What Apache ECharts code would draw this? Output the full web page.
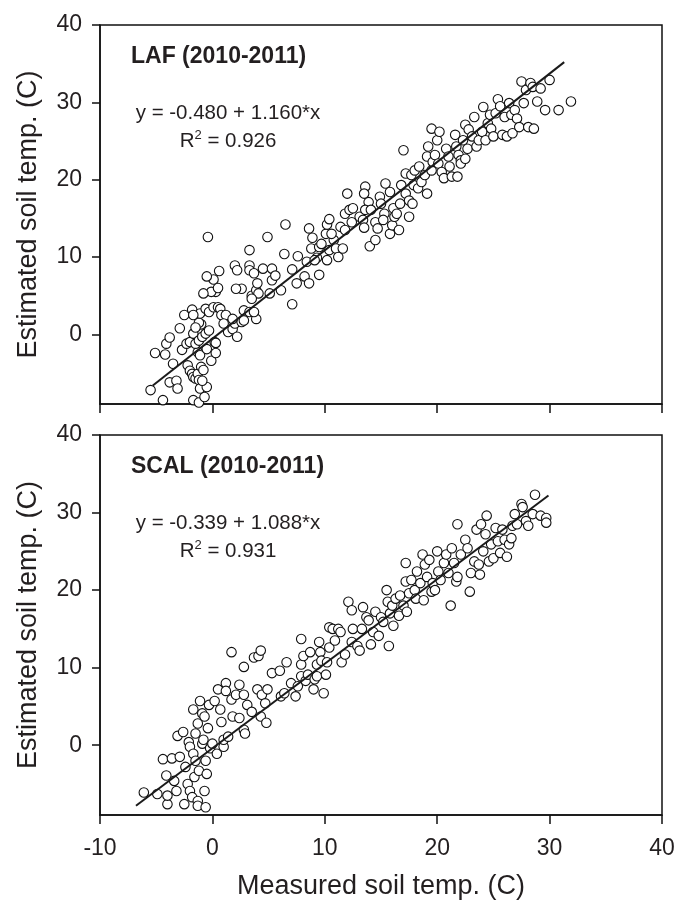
<!DOCTYPE html>
<html><head><meta charset="utf-8">
<script src="https://cdn.jsdelivr.net/npm/echarts@6/dist/echarts.min.js"></script>
<style>html,body{margin:0;padding:0;background:#fff}#c{width:684px;height:906px}</style>
</head><body><div id="c"></div>
<script>
const xTicks = [-10, 0, 10, 20, 30, 40];
const yTicks = [0, 10, 20, 30, 40];
const panelTitles = ['LAF (2010-2011)', 'SCAL (2010-2011)'];
const equations = ['y = -0.480 + 1.160*x', 'y = -0.339 + 1.088*x'];
const r2Values = ['0.926', '0.931'];
const xAxisName = 'Measured soil temp. (C)';
const yAxisName = 'Estimated soil temp. (C)';

const lafX = [-5.5,-4.4,-5.1,-4.2,-4.1,-3.8,-3.5,-3.8,-3.2,-3.1,-2.9,-2.5,-2.7,-2.3,-2.0,-1.8,-1.7,-2.2,-2.0,-1.8,-1.7,-1.5,-1.3,-1.2,-1.0,-0.8,-1.7,-1.2,-0.7,-1.1,-0.5,-0.9,-1.3,-1.1,-1.5,-1.2,-0.9,-0.6,-0.3,-1.0,-1.2,-1.1,-1.7,-1.5,-0.5,-0.1,0.3,0.2,0.3,-0.6,-0.3,0.1,0.5,0.3,-0.1,-0.8,0.1,-0.5,-0.4,0.6,0.5,0.7,0.8,1.2,1.0,1.4,1.8,2.2,2.0,2.6,2.8,1.8,2.8,3.3,3.9,3.7,3.5,3.9,4.1,4.0,2.6,2.1,3.5,2.0,2.2,3.3,3.3,3.7,3.3,4.5,5.3,4.9,5.3,5.6,5.1,6.1,6.5,6.4,7.1,7.5,7.1,7.6,8.2,8.6,8.6,8.9,8.8,8.4,9.5,9.3,9.5,9.7,9.1,10.2,10.4,10.1,10.2,10.4,10.8,10.6,11.0,11.2,11.4,11.6,11.8,12.0,11.8,12.2,12.5,12.4,13.1,13.4,13.5,13.6,13.5,13.9,13.6,14.1,14.0,14.5,14.5,14.7,14.9,15.0,15.3,15.2,15.4,15.8,15.8,16.0,16.1,16.2,16.4,16.6,16.7,16.8,17.0,17.2,17.2,17.5,17.5,17.7,17.8,17.9,18.0,18.3,18.4,18.6,18.9,19.1,19.1,19.2,19.5,19.5,19.6,19.8,20.0,20.2,20.1,20.4,20.6,20.8,21.0,21.1,21.3,21.6,21.7,21.8,21.9,22.1,22.1,22.3,22.5,22.5,22.7,22.8,23.1,23.3,23.5,23.7,24.0,24.1,24.3,24.5,24.7,24.8,25.0,25.2,25.4,25.6,25.8,26.0,26.2,26.4,26.6,26.7,26.9,27.1,27.3,27.5,27.7,27.9,28.1,28.3,28.5,28.6,28.9,29.2,29.6,30.0,30.8,31.9];
const lafY = [-7.2,-8.5,-2.4,-2.6,-1.2,-0.4,-3.8,-6.2,-6.0,-7.0,0.8,2.5,-2.0,-1.2,-1.0,3.2,0.1,-4.0,-4.7,-5.1,-5.5,-5.7,-5.1,-5.9,-4.2,-4.6,-8.5,-8.8,-8.1,-7.0,-6.8,-6.0,-2.3,-2.7,-1.2,-0.8,-0.3,0.1,0.5,1.3,1.5,2.7,2.5,0.9,-1.9,-3.4,-2.4,-1.0,-1.1,3.3,2.9,3.5,3.5,5.5,5.5,5.3,7.1,7.5,12.6,8.2,6.0,3.3,2.5,2.5,1.4,0.3,0.7,-0.3,1.4,1.6,1.8,2.0,3.1,2.9,2.0,2.9,5.0,5.7,5.3,6.6,5.9,5.9,4.6,8.9,8.3,8.9,8.3,7.9,10.9,8.5,8.5,12.6,7.0,7.6,5.3,5.7,14.2,10.4,8.4,6.6,3.9,10.1,7.5,6.6,13.7,12.5,11.1,9.4,7.7,9.9,11.3,11.7,9.6,9.6,10.9,13.0,14.2,14.9,12.2,13.0,11.1,10.0,13.9,11.1,13.5,18.2,15.6,16.1,16.3,14.5,15.2,14.8,13.8,19.1,18.2,17.1,16.1,16.1,11.4,12.2,14.5,13.7,17.8,16.9,15.6,14.8,19.5,18.4,13.0,14.1,16.3,15.2,15.6,13.5,16.9,19.3,23.8,18.2,20.8,17.3,15.2,20.6,16.9,19.3,21.2,18.9,21.7,19.7,20.6,18.2,23.0,24.3,26.6,21.2,22.3,23.2,25.1,26.2,22.1,21.0,20.2,24.0,23.0,21.7,20.4,25.8,24.3,20.4,23.2,22.5,22.1,25.1,27.1,22.7,24.0,26.5,25.6,28.1,24.3,25.1,26.2,29.4,25.1,27.3,28.4,26.6,25.6,28.6,30.4,29.5,25.8,28.1,25.6,29.9,28.4,26.0,29.0,27.9,26.8,32.7,29.9,31.6,26.8,32.5,32.0,26.6,30.1,31.8,29.0,32.9,29.0,30.1];

const scalX = [-6.1,-4.9,-4.4,-4.0,-4.0,-4.1,-3.6,-3.2,-3.4,-3.1,-2.6,-2.9,-2.5,-2.4,-2.2,-2.0,-1.8,-2.1,-2.0,-1.7,-1.7,-1.5,-1.6,-1.3,-1.3,-1.2,-1.5,-1.3,-1.1,-0.9,-0.9,-0.8,-0.7,-0.6,-0.7,-0.5,-0.6,-0.4,-0.2,-0.3,0.0,0.2,0.4,0.5,0.7,0.8,1.0,1.0,1.2,1.2,1.4,1.7,1.7,1.8,2.1,2.4,2.4,2.8,2.8,2.8,2.9,3.1,3.5,3.7,4.1,4.3,4.0,4.3,4.4,4.7,4.8,4.9,5.3,6.0,6.1,6.4,6.6,7.0,7.4,7.6,7.9,7.9,7.9,8.1,8.3,8.5,8.7,9.0,9.1,9.3,9.3,9.5,9.6,9.7,9.9,10.1,10.2,10.4,10.4,10.7,10.9,11.2,11.5,11.4,11.8,12.1,12.4,12.4,12.5,12.9,13.1,13.3,13.4,13.7,13.9,14.1,14.3,14.5,14.8,15.0,15.2,15.5,15.6,15.7,15.8,16.0,16.1,16.3,16.6,16.7,17.0,17.2,17.2,17.3,17.5,17.7,18.0,18.1,18.2,18.5,18.7,18.8,18.9,19.1,19.3,19.5,19.6,19.8,20.0,20.1,20.3,20.6,20.8,21.0,21.2,21.3,21.5,21.7,21.8,21.8,22.1,22.5,22.7,22.9,23.0,23.3,23.5,23.7,23.8,23.9,24.1,24.3,24.4,24.6,24.8,25.0,25.2,25.4,25.6,25.8,26.0,26.2,26.4,26.6,26.7,26.9,27.1,27.5,27.6,27.9,28.1,28.5,28.7,29.2,29.7,29.7];
const scalY = [-6.1,-6.3,-1.8,-7.6,-6.5,-3.9,-1.7,-5.9,-4.6,1.2,1.7,-1.5,-7.6,-2.8,-5.0,-5.9,-6.7,0.4,-0.2,4.6,-1.1,-2.0,-4.1,-7.2,-7.8,-3.3,1.5,2.8,5.7,4.1,0.2,0.7,3.7,-2.0,-5.9,-3.7,-8.0,2.2,-0.4,5.2,0.2,5.7,-1.1,7.2,4.6,3.0,-0.2,0.7,8.0,7.0,1.1,12.0,5.9,3.7,6.5,7.8,3.5,2.0,6.5,10.1,1.5,5.2,4.3,11.3,11.5,12.2,7.2,3.7,6.5,5.4,2.9,7.2,9.3,9.6,6.3,6.7,10.7,8.0,6.3,7.6,13.7,10.4,8.9,11.5,8.3,9.1,12.0,7.2,8.5,8.9,10.4,13.3,12.0,10.9,6.7,9.1,10.7,12.6,15.2,15.0,13.5,15.0,10.7,14.6,11.7,18.5,17.4,13.3,15.0,12.8,12.2,15.0,17.8,16.5,16.1,13.0,14.6,17.2,14.1,16.5,15.9,20.0,18.5,12.8,17.0,18.0,15.4,18.9,16.7,19.3,18.0,21.1,23.5,17.2,19.6,21.3,20.0,18.9,22.4,20.9,24.6,18.7,23.3,21.7,23.9,19.8,20.9,20.0,25.0,22.4,21.3,23.5,24.6,22.2,18.0,25.4,23.5,21.1,21.7,28.5,24.6,26.5,25.4,19.8,22.2,23.7,27.8,23.3,22.0,28.5,25.0,27.2,29.6,23.7,25.9,24.1,28.0,26.3,24.8,27.8,26.5,24.3,25.9,26.7,28.3,29.8,28.5,31.1,30.7,28.9,28.3,29.8,32.3,29.6,29.3,28.7];

const lafLineX = [-5.3, 31.3];
const lafLineY = [-6.6, 35.2];
const scalLineX = [-6.8, 29.9];
const scalLineY = [-7.8, 32.2];

const FONT = '"Liberation Sans", Arial, sans-serif';
const TXT = '#231f20';
const chart = echarts.init(document.getElementById('c'), null, {renderer: 'canvas'});

function pairs(xs, ys) { return xs.map((v, i) => [v, ys[i]]); }

function xAxisFor(gi, showLabels) {
  return {
    gridIndex: gi, type: 'value', min: -10, max: 40, interval: 10,
    axisLine: {show: true, onZero: false, lineStyle: {color: '#111', width: 1.5}},
    axisTick: {show: true, inside: false, length: 9, lineStyle: {color: '#111', width: 1.5}},
    axisLabel: {show: showLabels, margin: 22, fontSize: 23, fontFamily: FONT, color: TXT},
    splitLine: {show: false},
    name: showLabels ? xAxisName : '', nameLocation: 'middle', nameGap: 58,
    nameTextStyle: {fontSize: 27, fontFamily: FONT, color: TXT}
  };
}
function yAxisFor(gi) {
  return {
    gridIndex: gi, type: 'value', min: -9, max: 40,
    axisLine: {show: true, onZero: false, lineStyle: {color: '#111', width: 1.5}},
    axisTick: {show: true, inside: false, length: 8, customValues: yTicks, lineStyle: {color: '#111', width: 1.5}},
    axisLabel: {show: true, margin: 18, fontSize: 23, fontFamily: FONT, color: TXT, customValues: yTicks},
    splitLine: {show: false},
    name: yAxisName, nameLocation: 'middle', nameGap: 58, nameRotate: 90,
    nameTextStyle: {fontSize: 27, fontFamily: FONT, color: TXT}
  };
}
function scatter(gi, xs, ys) {
  return {
    type: 'scatter', xAxisIndex: gi, yAxisIndex: gi, data: pairs(xs, ys),
    symbol: 'circle', symbolSize: 9.5, z: 2,
    itemStyle: {color: '#fff', borderColor: '#111', borderWidth: 1.1, opacity: 1},
    emphasis: {disabled: true}
  };
}
function fitLine(gi, xs, ys) {
  return {
    type: 'line', xAxisIndex: gi, yAxisIndex: gi, data: pairs(xs, ys),
    showSymbol: false, symbol: 'none', z: 3,
    lineStyle: {color: '#1a1a1a', width: 2}, emphasis: {disabled: true}
  };
}

const graphics = [];
const panelTop = [25, 435];
panelTitles.forEach((t, i) => {
  const top = panelTop[i];
  graphics.push({type: 'text', x: 131, y: top + 32, z: 10,
    style: {text: t, fontFamily: FONT, fontSize: 23, fontWeight: 'bold', fill: TXT, textVerticalAlign: 'middle', textAlign: 'left'}});
  graphics.push({type: 'text', x: 228, y: top + 88, z: 10,
    style: {text: equations[i], fontFamily: FONT, fontSize: 20.5, fill: TXT, textVerticalAlign: 'middle', textAlign: 'center'}});
  graphics.push({type: 'text', x: 228, y: top + 115, z: 10,
    style: {text: '{r|R}{s|2}{r| = ' + r2Values[i] + '}', fontFamily: FONT, fill: TXT, textVerticalAlign: 'middle', textAlign: 'center',
      rich: {r: {fontSize: 20.5, fontFamily: FONT, fill: TXT, verticalAlign: 'bottom'}, s: {fontSize: 13, fontFamily: FONT, fill: TXT, verticalAlign: 'top', padding: [0, 0, 10, 0]}}}});
});

chart.setOption({
  animation: false,
  backgroundColor: '#fff',
  grid: [
    {left: 100, right: 22, top: 25, height: 379, show: true, borderColor: '#111', borderWidth: 1.5, backgroundColor: 'transparent'},
    {left: 100, right: 22, top: 435, height: 380, show: true, borderColor: '#111', borderWidth: 1.5, backgroundColor: 'transparent'}
  ],
  xAxis: [xAxisFor(0, false), xAxisFor(1, true)],
  yAxis: [yAxisFor(0), yAxisFor(1)],
  series: [scatter(0, lafX, lafY), fitLine(0, lafLineX, lafLineY), scatter(1, scalX, scalY), fitLine(1, scalLineX, scalLineY)],
  graphic: graphics
});
</script></body></html>
